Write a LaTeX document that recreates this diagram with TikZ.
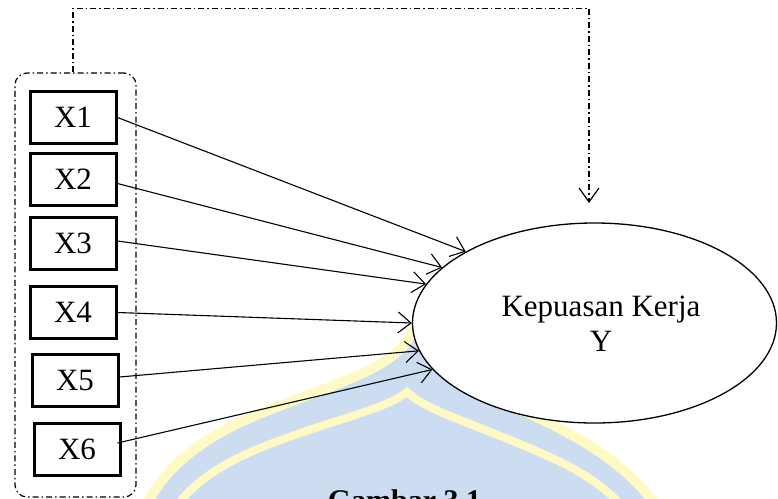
\documentclass[tikz,border=0pt]{standalone}
\usepackage{fontspec}
\setmainfont{Liberation Serif}
\usetikzlibrary{shapes.geometric,arrows.meta,calc}
\definecolor{crestblue}{RGB}{204,221,242}
\definecolor{crestyellow}{RGB}{255,249,196}
\begin{document}
\begin{tikzpicture}[x=1pt,y=-1pt,
  varbox/.style={draw,line width=3pt,minimum width=86pt,minimum height=52pt,
    inner sep=0pt,fill=white,font=\fontsize{31}{35}\selectfont},
  path arrow/.style={line width=1.1pt,-{Straight Barb[length=13pt,width=21pt]}},
  dashdot line/.style={line width=1.2pt,dash pattern=on 6pt off 3pt on 1.5pt off 3pt},
]
\useasboundingbox (0,0) rectangle (778,498);

% faint crest in the background
\draw[crestyellow,line width=20pt,fill=crestblue]
  (140,540) .. controls (150,490) and (185,455) .. (240,428)
  .. controls (300,400) and (365,385) .. (398,358)
  .. controls (408,350) and (413,342) .. (416,336)
  .. controls (425,355) and (460,385) .. (520,415)
  .. controls (585,445) and (640,475) .. (670,540) -- cycle;
\fill[crestblue]
  (140,540) .. controls (150,490) and (185,455) .. (240,428)
  .. controls (300,400) and (365,385) .. (398,358)
  .. controls (408,350) and (413,342) .. (416,336)
  .. controls (425,355) and (460,385) .. (520,415)
  .. controls (585,445) and (640,475) .. (670,540) -- cycle;
\draw[crestyellow,line width=8pt]
  (165,525) .. controls (185,485) and (220,465) .. (260,448)
  .. controls (330,420) and (385,410) .. (407,392)
  .. controls (425,410) and (470,422) .. (541,453)
  .. controls (580,470) and (615,490) .. (635,525);

% caption
\node[font=\fontsize{30}{36}\selectfont\bfseries,anchor=base,inner sep=0pt] (caption)
  at (404.5,510) {Gambar 3.1};

% dependent variable
\node[ellipse,draw,fill=white,line width=1.3pt,minimum width=364pt,
  minimum height=200pt,inner sep=0pt] (Y) at (594.5,323) {};
\node[font=\fontsize{31}{35}\selectfont,align=center,inner sep=0pt] (Ylabel)
  at (601,324) {Kepuasan Kerja\\Y};

% independent variables and their group
\node[draw,dashdot line,rounded corners=12pt,minimum width=121pt,
  minimum height=424pt] (grp) at (75.5,285) {};
\node[varbox] (X1) at (73,117.5) {X1};
\node[varbox] (X2) at (73,179.5) {X2};
\node[varbox] (X3) at (73,243) {X3};
\node[varbox] (X4) at (73,312.5) {X4};
\node[varbox] (X5) at (75,380) {X5};
\node[varbox] (X6) at (77,449) {X6};

% partial effects
\draw[path arrow] (X1.east) -- (Y.151.6);
\draw[path arrow] ($(X2.east)+(0,4)$) -- (Y.160.0);
\draw[path arrow] ($(X3.east)+(0,-2)$) -- (Y.167.4);
\draw[path arrow] (X4.east) -- (Y.180);
\draw[path arrow] ($(X5.east)+(0,-3)$) -- (Y.189.2);
\draw[path arrow] ($(X6.east)+(-4,-6)$) -- (Y.196.5);

% joint effect
\coordinate (dropY) at (589,203);
\draw[dashdot line,-{Straight Barb[length=14pt,width=20pt]}]
  ([xshift=-2.5pt]grp.north) -- ++(0,-64) -| (dropY);
\end{tikzpicture}
\end{document}
